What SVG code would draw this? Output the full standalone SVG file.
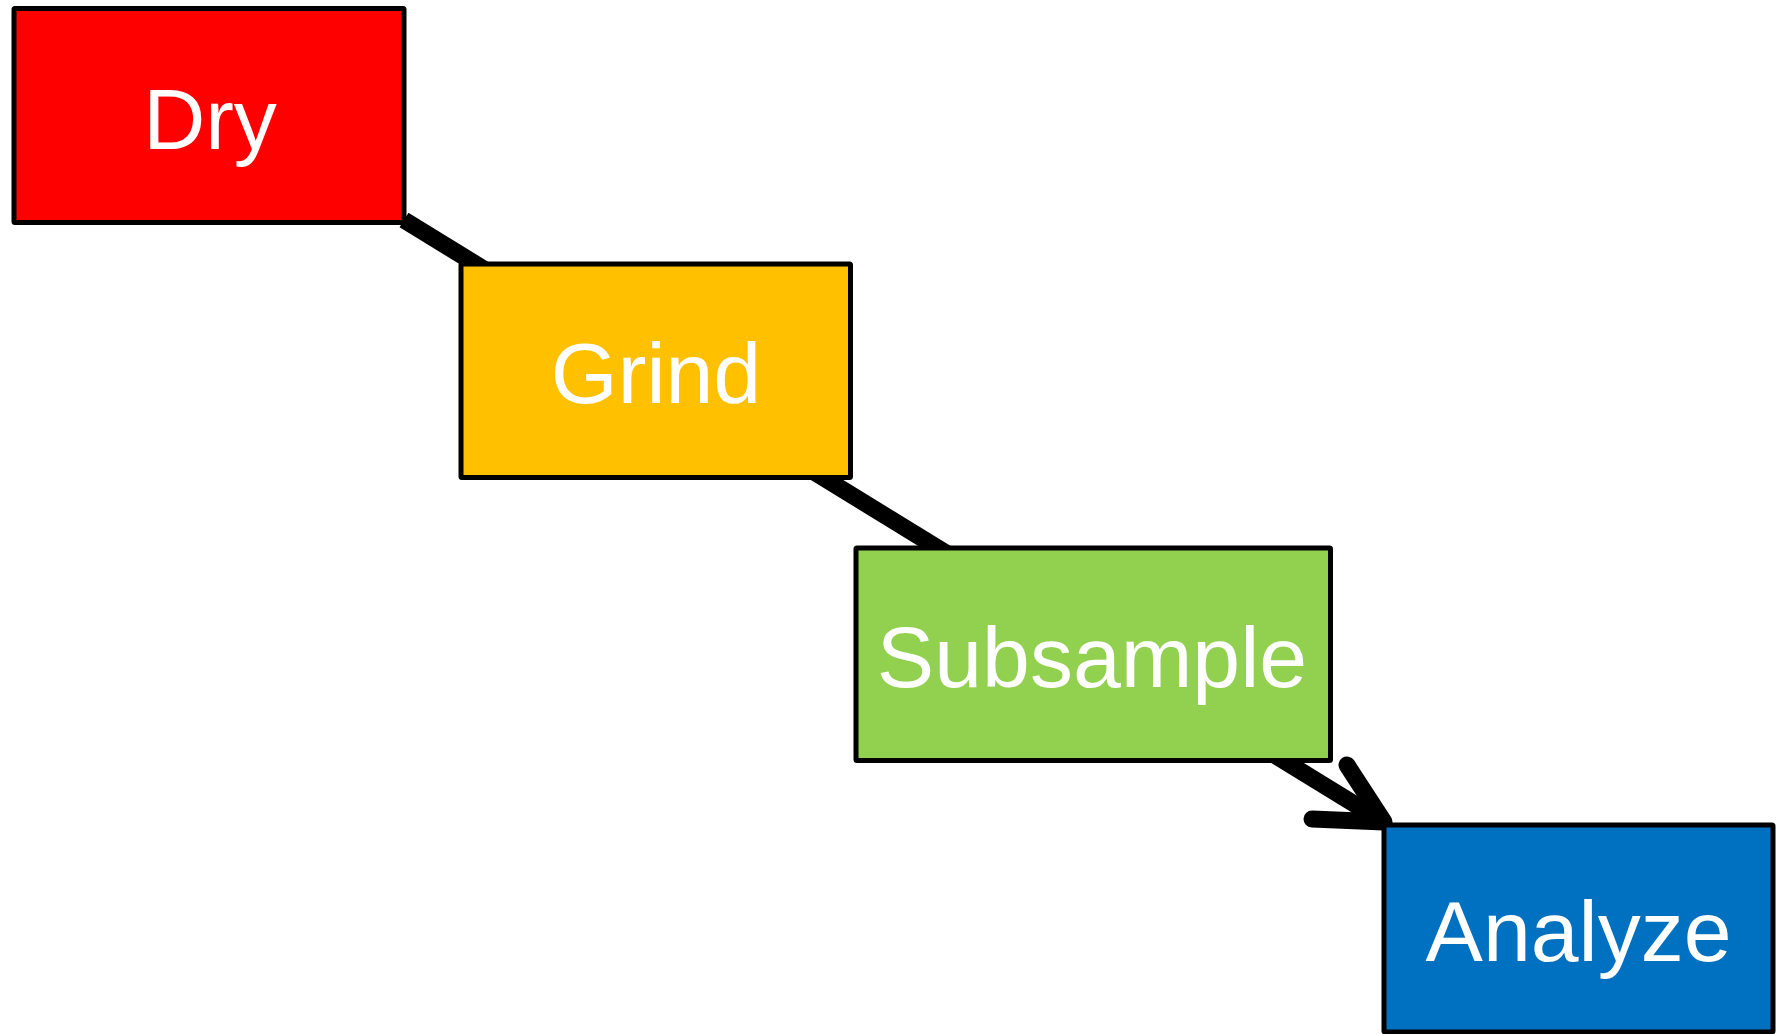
<svg xmlns="http://www.w3.org/2000/svg" width="1778" height="1034" viewBox="0 0 1778 1034">
<style>
.box{stroke:#000;stroke-width:5;stroke-linejoin:round}
.lbl{font-family:"Liberation Sans",Arial,sans-serif;font-size:86px;fill:#fff;text-anchor:middle}
.conn{fill:none;stroke:#000;stroke-width:17}
</style>
<rect width="1778" height="1034" fill="#fff"/>
<g id="connectors">
<line class="conn" x1="404" y1="220" x2="1382" y2="821" stroke-linecap="butt"/>
<polyline class="conn" points="1347,765 1384,822 1312,819" stroke-linecap="round" stroke-linejoin="round"/>
</g>
<g id="dry">
<rect class="box" x="14" y="8.5" width="390" height="214" rx="1" fill="#FF0000"/>
<text class="lbl" x="210" y="148.5">Dry</text>
</g>
<g id="grind">
<rect class="box" x="461" y="264" width="389.5" height="213.5" rx="1" fill="#FFC000"/>
<text class="lbl" x="656" y="403">Grind</text>
</g>
<g id="subsample">
<rect class="box" x="856" y="548" width="474.5" height="212.5" rx="1" fill="#92D050"/>
<text class="lbl" x="1092" y="687">Subsample</text>
</g>
<g id="analyze">
<rect class="box" x="1384" y="825" width="389" height="207" rx="1" fill="#0070C0"/>
<text class="lbl" x="1578.5" y="961">Analyze</text>
</g>
</svg>
